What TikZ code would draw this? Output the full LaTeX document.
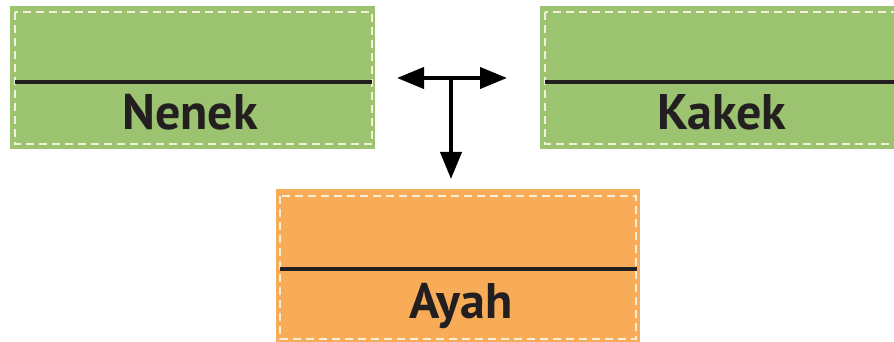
\documentclass[tikz,border=0pt]{standalone}
\usepackage{fontspec}
\setmainfont{PT Sans}
\usetikzlibrary{arrows.meta,calc}
\definecolor{boxgreen}{HTML}{9BC370}
\definecolor{boxorange}{HTML}{F9AC58}
\definecolor{ink}{HTML}{231F20}
\definecolor{dashcol}{HTML}{F4EFD8}
\begin{document}
\begin{tikzpicture}[x=1pt,y=-1pt,
  personbox/.style={draw=none, inner sep=0, outer sep=0},
  innerdash/.style={draw=dashcol, line width=1.5pt, dash pattern=on 8pt off 5pt},
  divider/.style={draw=ink, line width=4pt},
  namelabel/.style={text=ink, font=\fontsize{50}{50}\selectfont\bfseries, inner sep=0, anchor=base},
  link/.style={draw=black, line width=4pt}
]
\useasboundingbox (0,0) rectangle (894,342);
\clip (0,0) rectangle (894,342);
% Nenek
\node[personbox, fill=boxgreen, minimum width=365pt, minimum height=143pt] (nenek) at (192.5,77.5) {};
\draw[innerdash] ($(nenek.north west)+(5,6)$) rectangle ($(nenek.south east)+(-3,-5)$);
\draw[divider] ($(nenek.west)+(5,4.5)$) -- ($(nenek.east)+(-3,4.5)$);
\node[namelabel] (nenektext) at (190,130) {Nenek};
% Kakek
\node[personbox, fill=boxgreen, minimum width=365pt, minimum height=143pt] (kakek) at (722.5,77.5) {};
\draw[innerdash] ($(kakek.north west)+(5,6)$) rectangle ($(kakek.south east)+(-3,-5)$);
\draw[divider] ($(kakek.west)+(5,4.5)$) -- ($(kakek.east)+(-3,4.5)$);
\node[namelabel] (kakektext) at (722,130) {Kakek};
% Ayah
\node[personbox, fill=boxorange, minimum width=364pt, minimum height=155pt] (ayah) at (458,266.5) {};
\draw[innerdash] ($(ayah.north west)+(4,7)$) rectangle ($(ayah.south east)+(-4,-5)$);
\draw[divider] ($(ayah.north west)+(4,80)$) -- ($(ayah.north east)+(-3,80)$);
\node[namelabel] (ayahtext) at (461,318) {Ayah};
% connector
\coordinate (hl) at (397,78);
\coordinate (hr) at (507,78);
\coordinate (hm) at (451,78);
\coordinate (vd) at (451,179);
\draw[link, {Triangle[length=27pt, width=21pt]}-{Triangle[length=27pt, width=21pt]}] (hl) -- (hr);
\draw[link, -{Triangle[length=27pt, width=21pt]}] (hm) -- (vd);
\end{tikzpicture}
\end{document}
